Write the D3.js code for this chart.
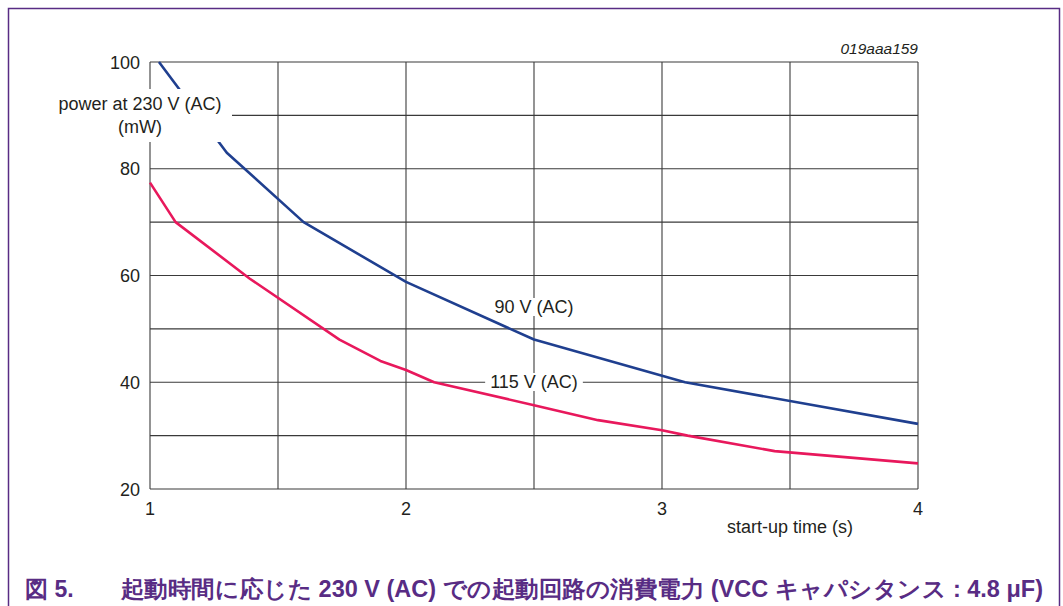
<!DOCTYPE html>
<html>
<head>
<meta charset="utf-8">
<script src="https://cdn.jsdelivr.net/npm/d3@7"></script>
<style>
  html, body { margin: 0; padding: 0; background: #fff; }
  svg { display: block; }
  text { font-family: "Liberation Sans", Arial, Helvetica, sans-serif; }
</style>
</head>
<body>
<svg id="chart" width="1063" height="606"></svg>
<script>
// Start-up time (s) vs. power consumption at 230 V (AC), in mW
const v90Time  = [1.035, 1.30, 1.60, 2.00, 2.50, 3.09, 4.00];
const v90Power = [100,   83.0, 70.0, 58.8, 48.0, 40.0, 32.2];

const v115Time  = [1.00, 1.10, 1.39, 1.74, 1.90, 2.00, 2.11, 2.50, 2.75, 3.00, 3.10, 3.44, 4.00];
const v115Power = [77.4, 70.0, 59.4, 48.0, 44.0, 42.3, 40.0, 35.7, 32.9, 31.0, 30.0, 27.1, 24.8];

const xTicks = [1, 2, 3, 4];
const xGrid  = [1, 1.5, 2, 2.5, 3, 3.5, 4];
const yTicks = [20, 40, 60, 80, 100];
const yGrid  = [20, 30, 40, 50, 60, 70, 80, 90, 100];

const seriesNames = ["90 V (AC)", "115 V (AC)"];
const yTitle = ["power at 230 V (AC)", "(mW)"];
const xTitle = "start-up time (s)";
const docId = "019aaa159";
const figNo = "図 5.";
const caption = "起動時間に応じた 230 V (AC) での起動回路の消費電力 (VCC キャパシタンス : 4.8 μF)";

const svg = d3.select("#chart");
const frameColor = "#582c84";
const blue = "#1f3f8f";
const red = "#e8185c";
const ink = "#231f20";
const fs = 18;

// Page frame
svg.append("path")
  .attr("d", "M8.5,606 V8.5 H1059.5 V606")
  .attr("fill", "none").attr("stroke", frameColor).attr("stroke-width", 1.5);

const x = d3.scaleLinear().domain([1, 4]).range([150, 918]);
const y = d3.scaleLinear().domain([20, 100]).range([489, 62]);

// Grid
const grid = svg.append("g");
grid.selectAll("line.v").data(xGrid).join("line")
  .attr("x1", d => x(d)).attr("x2", d => x(d))
  .attr("y1", y(100)).attr("y2", y(20))
  .attr("stroke", "#5a5a5a").attr("stroke-width", 1.3);
grid.selectAll("line.h").data(yGrid).join("line")
  .attr("x1", x(1)).attr("x2", x(4))
  .attr("y1", d => y(d)).attr("y2", d => y(d))
  .attr("stroke", "#3a3a3a").attr("stroke-width", 1.2);

// Tick labels
svg.append("g").selectAll("text").data(yTicks).join("text")
  .attr("x", 140).attr("y", d => y(d) + 6.5)
  .attr("text-anchor", "end").attr("font-size", fs).attr("fill", ink)
  .text(d => d);
svg.append("g").selectAll("text").data(xTicks).join("text")
  .attr("x", d => x(d)).attr("y", 515)
  .attr("text-anchor", "middle").attr("font-size", fs).attr("fill", ink)
  .text(d => d);

svg.append("text").attr("x", 790).attr("y", 533)
  .attr("text-anchor", "middle").attr("font-size", fs).attr("fill", ink)
  .text(xTitle);

svg.append("text").attr("x", 918).attr("y", 54)
  .attr("text-anchor", "end").attr("font-size", 15.5).attr("font-style", "italic")
  .attr("fill", ink).text(docId);

// Series labels with white backing over the grid
function boxedLabel(cx, baseline, str, pad) {
  const g = svg.append("g");
  const t = g.append("text").attr("x", cx).attr("y", baseline)
    .attr("text-anchor", "middle").attr("font-size", fs).attr("fill", ink).text(str);
  const b = t.node().getBBox();
  g.insert("rect", "text")
    .attr("x", b.x - pad).attr("y", b.y + 1).attr("width", b.width + pad * 2).attr("height", b.height - 2)
    .attr("fill", "#fff");
}
boxedLabel(534, 313, seriesNames[0], 4);
boxedLabel(534, 388, seriesNames[1], 5);

// Curves
const line = d3.line().x(d => x(d[0])).y(d => y(d[1]));
svg.append("path").datum(d3.zip(v90Time, v90Power))
  .attr("d", line).attr("fill", "none").attr("stroke", blue).attr("stroke-width", 2.6)
  .attr("stroke-linejoin", "round");
svg.append("path").datum(d3.zip(v115Time, v115Power))
  .attr("d", line).attr("fill", "none").attr("stroke", red).attr("stroke-width", 2.6)
  .attr("stroke-linejoin", "round");

// Y-axis title over a white box
svg.append("rect").attr("x", 50).attr("y", 89).attr("width", 182).attr("height", 53).attr("fill", "#fff");
svg.append("g").selectAll("text").data(yTitle).join("text")
  .attr("x", 140).attr("y", (d, i) => 110 + i * 23)
  .attr("text-anchor", "middle").attr("font-size", fs).attr("fill", ink)
  .text(d => d);

// Figure caption
const cap = svg.append("g").attr("fill", frameColor).attr("font-weight", "bold")
  .style("font-family", "'Liberation Sans', 'Noto Sans CJK JP', sans-serif");
cap.append("text").attr("x", 25).attr("y", 597).attr("font-size", 23).text(figNo);
cap.append("text").attr("x", 121).attr("y", 597).attr("font-size", 23)
  .attr("textLength", 922).attr("lengthAdjust", "spacingAndGlyphs").text(caption);
</script>
</body>
</html>
